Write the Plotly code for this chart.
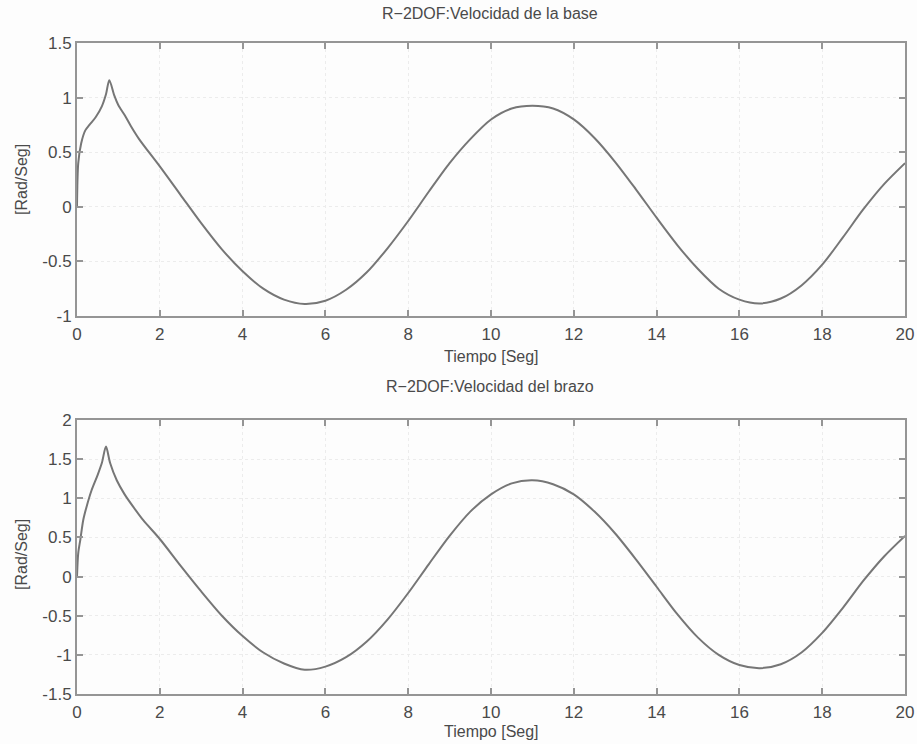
import plotly.graph_objects as go

# ---- data ----
t_base = [0, 0.03, 0.1, 0.2, 0.3, 0.45, 0.6, 0.7, 0.78, 0.9, 1.0, 1.15, 1.3, 1.5,
          2.0, 2.5, 3.0, 3.5, 4.0, 4.5, 5.0, 5.5, 6.0, 6.5, 7.0, 7.5, 8.0, 8.5, 9.0,
          9.5, 10.0, 10.5, 11.0, 11.5, 12.0, 12.5, 13.0, 13.5, 14.0, 14.5, 15.0,
          15.5, 16.0, 16.5, 17.0, 17.5, 18.0, 18.5, 19.0, 19.5, 20.0]
v_base = [0, 0.40, 0.58, 0.70, 0.75, 0.82, 0.92, 1.03, 1.16, 1.02, 0.93, 0.84, 0.74, 0.62,
          0.37, 0.11, -0.15, -0.39, -0.59, -0.75, -0.85, -0.89, -0.86, -0.76, -0.60, -0.38,
          -0.13, 0.14, 0.40, 0.62, 0.80, 0.90, 0.925, 0.90, 0.80, 0.63, 0.41, 0.16, -0.10,
          -0.35, -0.57, -0.75, -0.85, -0.885, -0.84, -0.72, -0.53, -0.28, -0.02, 0.21, 0.40]

t_brazo = [0, 0.03, 0.08, 0.15, 0.23, 0.35, 0.5, 0.6, 0.7, 0.8, 0.96, 1.15, 1.36, 1.6,
           2.0, 2.5, 3.0, 3.5, 4.0, 4.5, 5.0, 5.5, 6.0, 6.5, 7.0, 7.5, 8.0, 8.5, 9.0,
           9.5, 10.0, 10.5, 11.0, 11.5, 12.0, 12.5, 13.0, 13.5, 14.0, 14.5, 15.0,
           15.5, 16.0, 16.5, 17.0, 17.5, 18.0, 18.5, 19.0, 19.5, 20.0]
v_brazo = [0, 0.30, 0.47, 0.72, 0.89, 1.10, 1.30, 1.45, 1.66, 1.45, 1.23, 1.05, 0.89, 0.72,
           0.48, 0.14, -0.19, -0.50, -0.76, -0.97, -1.11, -1.19, -1.15, -1.03, -0.83, -0.55,
           -0.21, 0.16, 0.52, 0.83, 1.05, 1.19, 1.23, 1.18, 1.05, 0.83, 0.55, 0.22, -0.13,
           -0.48, -0.78, -1.00, -1.13, -1.17, -1.12, -0.97, -0.72, -0.40, -0.05, 0.26, 0.52]

x_ticks = [0, 2, 4, 6, 8, 10, 12, 14, 16, 18, 20]
y_ticks_base = [-1, -0.5, 0, 0.5, 1, 1.5]
y_ticks_brazo = [-1.5, -1, -0.5, 0, 0.5, 1, 1.5, 2]

title_base = "R−2DOF:Velocidad de la base"
title_brazo = "R−2DOF:Velocidad del brazo"
x_label = "Tiempo [Seg]"
y_label = "[Rad/Seg]"

W, H = 917, 744
FONT = "Liberation Sans, Arial, sans-serif"
TXT = "#4a4a4a"
LINE = "#767676"
AX = "#959595"

fig = go.Figure()
fig.add_trace(go.Scatter(x=t_base, y=v_base, mode="lines", xaxis="x", yaxis="y",
                         line=dict(color=LINE, width=2, shape="spline", smoothing=0.8),
                         showlegend=False))
fig.add_trace(go.Scatter(x=t_brazo, y=v_brazo, mode="lines", xaxis="x2", yaxis="y2",
                         line=dict(color=LINE, width=2, shape="spline", smoothing=0.8),
                         showlegend=False))

xd = [77 / W, 905 / W]
yd_top = [1 - 316 / H, 1 - 43 / H]
yd_bot = [1 - 694 / H, 1 - 420 / H]

common = dict(showline=True, linecolor=AX, linewidth=2, mirror="ticks",
              ticks="inside", ticklen=6, tickcolor=AX, tickwidth=1.5,
              showgrid=True, gridcolor="#ececec", griddash="dot", gridwidth=1,
              zeroline=False, automargin=False,
              tickfont=dict(family=FONT, size=17, color=TXT))

fig.update_layout(
    width=W, height=H,
    margin=dict(l=0, r=0, t=0, b=0, autoexpand=False),
    paper_bgcolor="#fdfdfd", plot_bgcolor="#fdfdfd",
    xaxis=dict(domain=xd, anchor="y", range=[0, 20], tickvals=x_ticks,
               ticklabelstandoff=2, **common),
    yaxis=dict(domain=yd_top, anchor="x", range=[-1, 1.5], tickvals=y_ticks_base,
               ticktext=[str(v) for v in y_ticks_base], **common),
    xaxis2=dict(domain=xd, anchor="y2", range=[0, 20], tickvals=x_ticks,
                ticklabelstandoff=2, **common),
    yaxis2=dict(domain=yd_bot, anchor="x2", range=[-1.5, 2], tickvals=y_ticks_brazo,
                ticktext=[str(v) for v in y_ticks_brazo], **common),
)

title_font = dict(family=FONT, size=16, color=TXT)
lab_font = dict(family=FONT, size=16, color=TXT)
cx = (xd[0] + xd[1]) / 2


def ann(text, x, y, font, angle=0):
    fig.add_annotation(text=text, x=x, y=y, xref="paper", yref="paper",
                       xanchor="center", yanchor="middle", showarrow=False,
                       textangle=angle, font=font)


ann(title_base, 490 / W, 1 - 14 / H, title_font)
ann(title_brazo, 490 / W, 1 - 386 / H, title_font)
ann(x_label, cx, 1 - 356 / H, lab_font)
ann(x_label, cx, 1 - 731 / H, lab_font)
ann(y_label, 21 / W, 1 - 180 / H, lab_font, -90)
ann(y_label, 21 / W, 1 - 555 / H, lab_font, -90)

fig.write_html("out.html")
